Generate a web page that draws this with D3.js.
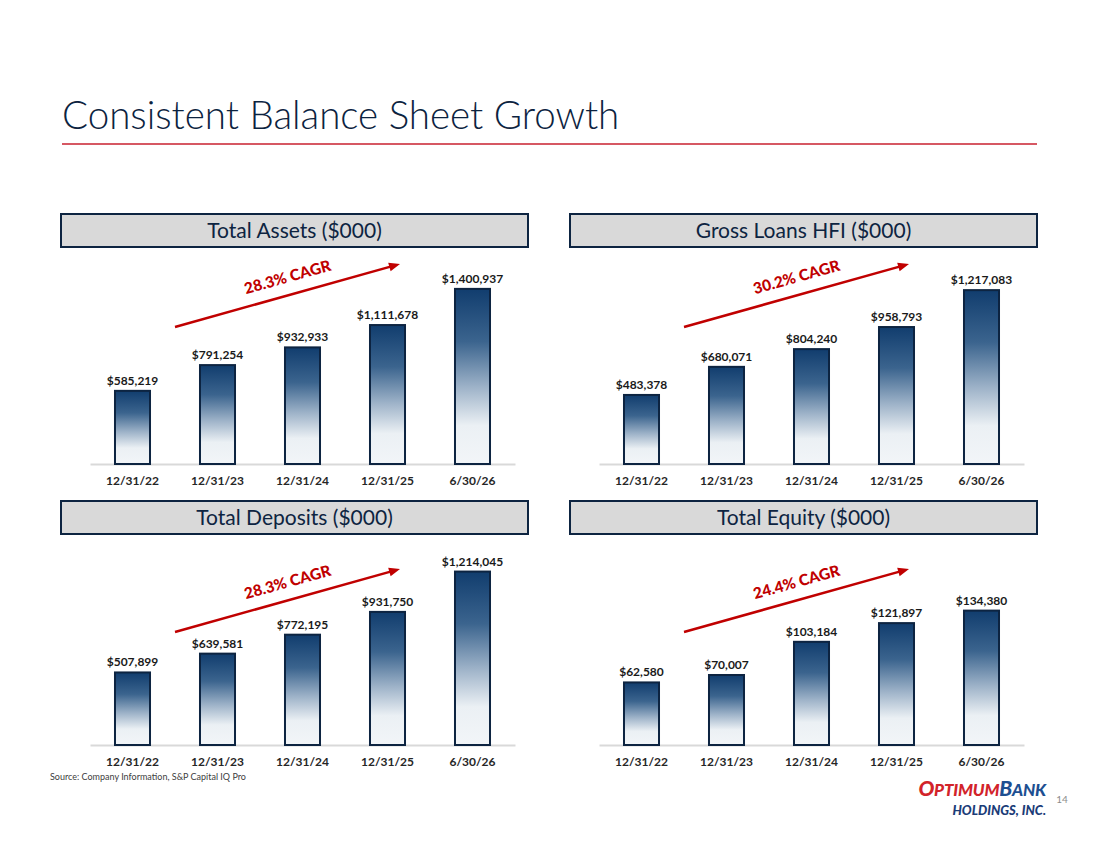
<!DOCTYPE html>
<html>
<head>
<meta charset="utf-8">
<script src="https://cdn.jsdelivr.net/npm/d3@7"></script>
<style>
  body { margin: 0; background: #fff; }
  svg { display: block; }
</style>
</head>
<body>
<svg id="slide" width="1100" height="849"></svg>
<script>

// data ($000)
var categories = ['12/31/22', '12/31/23', '12/31/24', '12/31/25', '6/30/26'];
var totalAssets = [585219, 791254, 932933, 1111678, 1400937];
var grossLoans = [483378, 680071, 804240, 958793, 1217083];
var totalDeposits = [507899, 639581, 772195, 931750, 1214045];
var totalEquity = [62580, 70007, 103184, 121897, 134380];

var panelTitles = ['Total Assets ($000)', 'Gross Loans HFI ($000)', 'Total Deposits ($000)', 'Total Equity ($000)'];
var cagrLabels = ['28.3% CAGR', '30.2% CAGR', '28.3% CAGR', '24.4% CAGR'];
var axisMax = [1600000, 1400000, 1400000, 200000];

var series = [totalAssets, grossLoans, totalDeposits, totalEquity];

// layout
var panelX = [61, 570, 61, 570];
var headerY = [214, 214, 501, 501];
var baselineY = [464, 464, 745, 745];
var arrowY = [[327, 264], [327, 264], [632, 569], [632, 569]];
var panelW = 467;
var plotH = 200;

var navy = '#0d2441';
var red = '#c00000';

var svg = d3.select('#slide');
var defs = svg.append('defs');

var grad = defs.append('linearGradient')
    .attr('id', 'barFill')
    .attr('x1', 0).attr('y1', 0)
    .attr('x2', 0).attr('y2', 1);
[[0, '#113d6e'], [0.3, '#3b648e'], [0.56, '#9db2c8'], [0.78, '#ebf0f4'], [1, '#f2f5f8']]
  .forEach(function(s) {
    grad.append('stop').attr('offset', s[0]).attr('stop-color', s[1]);
  });

// title
svg.append('text')
    .attr('x', 62)
    .attr('y', 129)
    .attr('fill', '#0c2340')
    .style('font-family', 'Lato, sans-serif')
    .style('font-weight', 300)
    .style('font-size', '38.5px')
    .text('Consistent Balance Sheet Growth');

svg.append('line')
    .attr('x1', 62).attr('x2', 1037)
    .attr('y1', 144).attr('y2', 144)
    .attr('stroke', '#c8202f')
    .attr('stroke-width', 1.6);

series.forEach(function(values, i) {
  var base = baselineY[i];
  var g = svg.append('g').attr('transform', 'translate(' + panelX[i] + ',0)');

  // header box
  g.append('rect')
      .attr('x', 0).attr('y', headerY[i])
      .attr('width', panelW).attr('height', 33)
      .attr('fill', '#d9d9d9')
      .attr('stroke', navy)
      .attr('stroke-width', 2);

  g.append('text')
      .attr('x', panelW / 2)
      .attr('y', headerY[i] + 24)
      .attr('text-anchor', 'middle')
      .attr('fill', navy)
      .style('font-family', 'Lato, sans-serif')
      .style('font-size', '21px')
      .text(panelTitles[i]);

  var x = d3.scaleBand()
      .domain(categories)
      .range([29, 454])
      .paddingInner(0.588)
      .paddingOuter(0.294);

  var y = d3.scaleLinear()
      .domain([0, axisMax[i]])
      .range([base, base - plotH]);

  var axis = g.append('g')
      .attr('transform', 'translate(0,' + base + ')')
      .call(d3.axisBottom(x).tickSize(0).tickSizeOuter(0).tickPadding(12));
  axis.select('.domain')
      .attr('stroke', '#d9d9d9')
      .attr('stroke-width', 2);
  axis.selectAll('text')
      .attr('fill', '#262626')
      .style('font-family', 'Lato, sans-serif')
      .style('font-weight', 700)
      .style('font-size', '12px');

  g.selectAll('rect.bar')
      .data(values)
      .enter()
      .append('rect')
      .attr('class', 'bar')
      .attr('x', function(d, j) { return x(categories[j]); })
      .attr('y', function(d) { return y(d); })
      .attr('width', x.bandwidth())
      .attr('height', function(d) { return base - y(d); })
      .attr('fill', 'url(#barFill)')
      .attr('stroke', navy)
      .attr('stroke-width', 2);

  g.selectAll('text.val')
      .data(values)
      .enter()
      .append('text')
      .attr('class', 'val')
      .attr('x', function(d, j) { return x(categories[j]) + x.bandwidth() / 2; })
      .attr('y', function(d) { return y(d) - 6; })
      .attr('text-anchor', 'middle')
      .attr('fill', '#1a1a1a')
      .style('font-family', 'Lato, sans-serif')
      .style('font-weight', 700)
      .style('font-size', '12px')
      .text(function(d) { return '$' + d3.format(',')(d); });

  // CAGR arrow
  var x0 = 114, y0 = arrowY[i][0], x1 = 339, y1 = arrowY[i][1];
  var ang = Math.atan2(y1 - y0, x1 - x0);
  var cos = Math.cos(ang), sin = Math.sin(ang);
  g.append('line')
      .attr('x1', x0).attr('y1', y0)
      .attr('x2', x1 - 8 * cos).attr('y2', y1 - 8 * sin)
      .attr('stroke', red)
      .attr('stroke-width', 2.5);
  g.append('path')
      .attr('d', 'M0,0L-11,-4.5L-11,4.5Z')
      .attr('fill', red)
      .attr('transform', 'translate(' + x1 + ',' + y1 + ') rotate(' + (ang * 180 / Math.PI) + ')');

  var mx = (x0 + x1) / 2 + 5 * cos + 18 * sin;
  var my = (y0 + y1) / 2 + 5 * sin - 18 * cos;
  g.append('text')
      .attr('transform', 'translate(' + mx + ',' + my + ') rotate(' + (ang * 180 / Math.PI) + ')')
      .attr('text-anchor', 'middle')
      .attr('dy', '0.36em')
      .attr('fill', red)
      .style('font-family', 'Lato, sans-serif')
      .style('font-weight', 900)
      .style('font-size', '15.5px')
      .text(cagrLabels[i]);
});

// footer
svg.append('text')
    .attr('x', 50)
    .attr('y', 780)
    .attr('fill', '#404040')
    .style('font-family', 'Lato, sans-serif')
    .style('font-size', '9px')
    .text('Source: Company Information, S&P Capital IQ Pro');

var logo = svg.append('text')
    .attr('x', 1046)
    .attr('y', 796)
    .attr('text-anchor', 'end')
    .style('font-family', 'Lato, sans-serif')
    .style('font-weight', 900)
    .style('font-style', 'italic')
    .style('letter-spacing', '-0.2px');
logo.append('tspan').attr('fill', '#d2232a').style('font-size', '21px').text('O');
logo.append('tspan').attr('fill', '#d2232a').style('font-size', '17px').text('PTIMUM');
logo.append('tspan').attr('fill', '#1d4f91').style('font-size', '21px').text('B');
logo.append('tspan').attr('fill', '#1d4f91').style('font-size', '17px').text('ANK');

svg.append('text')
    .attr('x', 1046)
    .attr('y', 815)
    .attr('text-anchor', 'end')
    .attr('fill', '#1b3c78')
    .style('font-family', 'Lato, sans-serif')
    .style('font-weight', 900)
    .style('font-style', 'italic')
    .style('font-size', '13px')
    .text('HOLDINGS, INC.');

svg.append('text')
    .attr('x', 1062)
    .attr('y', 803)
    .attr('text-anchor', 'middle')
    .attr('fill', '#8c8c8c')
    .style('font-family', 'Lato, sans-serif')
    .style('font-size', '10px')
    .text('14');

</script>
</body>
</html>
